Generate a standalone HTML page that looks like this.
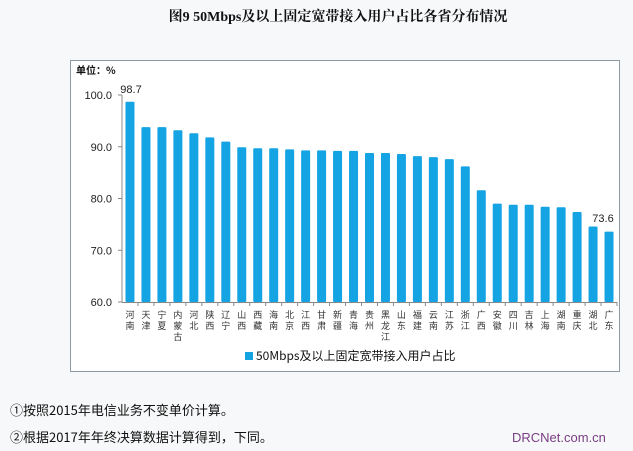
<!DOCTYPE html>
<html><head><meta charset="utf-8"><style>
body{margin:0;background:#f7f8f9;width:633px;height:451px;overflow:hidden;font-family:"Liberation Sans","Noto Sans CJK SC",sans-serif}
</style></head><body>
<svg id="s" width="633" height="451" xmlns="http://www.w3.org/2000/svg" style="position:absolute;left:0;top:0">
<text x="338" y="21" text-anchor="middle" font-family="'Liberation Serif','Noto Serif CJK SC',serif" font-weight="bold" font-size="14" fill="#111">图9 50Mbps及以上固定宽带接入用户占比各省分布情况</text>
<rect x="70.5" y="60.5" width="549" height="311" fill="#fff" stroke="#8a9aa6"/>
<text x="76" y="74" font-size="10" font-weight="bold" font-family="'Noto Sans CJK SC',sans-serif" fill="#111">单位：%</text>
<g id="g"></g>
<text x="10" y="415" font-size="13" font-family="'Noto Sans CJK SC',sans-serif" fill="#111">①按照2015年电信业务不变单价计算。</text>
<text x="10" y="442" font-size="13" font-family="'Noto Sans CJK SC',sans-serif" fill="#111">②根据2017年年终决算数据计算得到，下同。</text>
<text x="512" y="442" font-size="13" fill="#7a3d86">DRCNet.com.cn</text>
</svg>
<script>
var v=[98.7,93.8,93.8,93.2,92.6,91.8,91.0,89.9,89.7,89.7,89.5,89.3,89.3,89.2,89.2,88.8,88.8,88.6,88.2,88.0,87.6,86.2,81.6,79.0,78.8,78.8,78.4,78.3,77.4,74.6,73.6];
var n=["河南","天津","宁夏","内蒙古","河北","陕西","辽宁","山西","西藏","海南","北京","江西","甘肃","新疆","青海","贵州","黑龙江","山东","福建","云南","江苏","浙江","广西","安徽","四川","吉林","上海","湖南","重庆","湖北","广东"];
var h='',x0=122,x1=617,w=(x1-x0)/31;
function y(t){return 302-(t-60)*5.175;}
h+='<line x1="'+x0+'" y1="'+y(100)+'" x2="'+x0+'" y2="302" stroke="#888"/>';
h+='<line x1="'+x0+'" y1="302.5" x2="'+x1+'" y2="302.5" stroke="#888"/>';
[60,70,80,90,100].forEach(function(t){h+='<line x1="'+(x0-4)+'" y1="'+y(t)+'" x2="'+x0+'" y2="'+y(t)+'" stroke="#888"/><text x="'+(x0-10)+'" y="'+(y(t)+4)+'" text-anchor="end" font-size="11" fill="#222">'+t.toFixed(1)+'</text>';});
for(var i=0;i<31;i++){var c=x0+w*(i+0.5);
h+='<rect x="'+(c-4.5)+'" y="'+y(v[i])+'" width="9" height="'+(302-y(v[i]))+'" fill="#14a4e4" rx="1"/>';
h+='<line x1="'+(x0+w*(i+1))+'" y1="302" x2="'+(x0+w*(i+1))+'" y2="306" stroke="#888"/>';
for(var k=0;k<n[i].length;k++)h+='<text x="'+c+'" y="'+(318+k*11)+'" text-anchor="middle" font-size="9" font-family="\'Noto Sans CJK SC\',sans-serif" fill="#333">'+n[i][k]+'</text>';}
h+='<text x="131" y="93" text-anchor="middle" font-size="11" fill="#222">98.7</text>';
h+='<text x="603" y="222" text-anchor="middle" font-size="11" fill="#222">73.6</text>';
h+='<rect x="245" y="352" width="8" height="8" fill="#14a4e4"/><text x="256" y="360" font-size="12" font-family="\'Noto Sans CJK SC\',sans-serif" fill="#111">50Mbps及以上固定宽带接入用户占比</text>';
document.getElementById('g').innerHTML=h;
</script>
</body></html>
